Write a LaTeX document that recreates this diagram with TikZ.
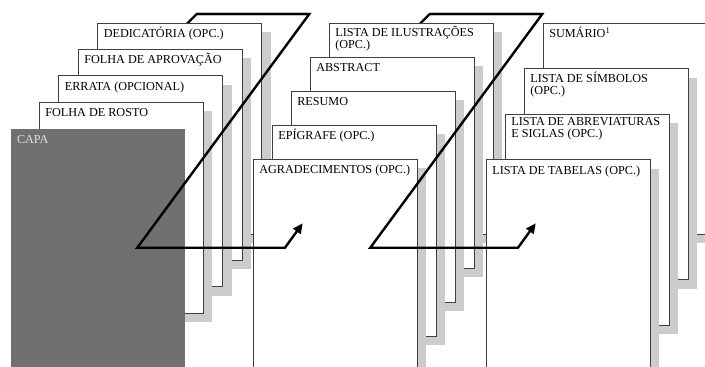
\documentclass[tikz,border=0pt]{standalone}
\usepackage{fontspec}
\setmainfont{Liberation Serif}
\usetikzlibrary{arrows.meta, calc, positioning, shadows}

\begin{document}
\begin{tikzpicture}[x=1pt, y=-1pt,
    every node/.style={inner sep=0pt, outer sep=0pt},
    page/.style={anchor=north west, draw=black!75, line width=0.8pt, fill=white,
        minimum width=164pt, minimum height=211pt,
        drop shadow={shadow xshift=9pt, shadow yshift=-9pt, opacity=1, fill=black!20}},
    title/.style={anchor=north west, inner xsep=6pt, inner ysep=3pt, align=left,
        text=black, font=\fontsize{12.2}{12.7}\selectfont,
        execute at begin node=\rule{0pt}{11.5pt}},
    turn/.style={line width=2.4pt, line join=miter}]
        \clip (0,0) rectangle (705,367);
        % turn markers, hidden part
        \coordinate (s1) at (160,50.7);
        \coordinate (a1) at (196.7,14);
        \coordinate (b1) at (309.3,14);
        \coordinate (c1) at (137.3,247.7);
        \coordinate (d1) at (285,247.7);
        \coordinate (e1) at (302.7,223.3);
        \coordinate (s2) at ($(s1)+(233,0)$);
        \coordinate (a2) at ($(a1)+(233,0)$);
        \coordinate (b2) at ($(b1)+(233,0)$);
        \coordinate (c2) at ($(c1)+(233,0)$);
        \coordinate (d2) at ($(d1)+(233,0)$);
        \coordinate (e2) at ($(e1)+(233,0)$);
        \draw[turn] (s1) -- (a1) -- (b1);
        \draw[turn] (s2) -- (a2) -- (b2);
        % first group
        \node[page] (ded) at (97.8,23) {};
        \node[title] (ded-t) at (ded.north west) {DEDICATÓRIA (OPC.)};
        \node[page] (aprov) at ($(ded.north west)+(-19.5,26.4)$) {};
        \node[title] (aprov-t) at (aprov.north west) {FOLHA DE APROVAÇÃO};
        \node[page] (errata) at ($(aprov.north west)+(-19.5,26.4)$) {};
        \node[title] (errata-t) at (errata.north west) {ERRATA (OPCIONAL)};
        \node[page] (rosto) at ($(errata.north west)+(-19.5,26.4)$) {};
        \node[title] (rosto-t) at (rosto.north west) {FOLHA DE ROSTO};
        \node[anchor=north west, fill=black!56, minimum width=174pt, minimum height=260pt] (capa) at (11,129) {};
        \node[title, text=black!12] (capa-t) at (capa.north west) {CAPA};
        % second group
        \node[page] (ilus) at (329.3,23) {};
        \node[title] (ilus-t) at (ilus.north west) {LISTA DE ILUSTRAÇÕES\\(OPC.)};
        \node[page] (abstract) at ($(ilus.north west)+(-19,34.1)$) {};
        \node[title] (abstract-t) at (abstract.north west) {ABSTRACT};
        \node[page] (resumo) at ($(abstract.north west)+(-19,34.1)$) {};
        \node[title] (resumo-t) at (resumo.north west) {RESUMO};
        \node[page] (epig) at ($(resumo.north west)+(-19,34.1)$) {};
        \node[title] (epig-t) at (epig.north west) {EPÍGRAFE (OPC.)};
        \node[page] (agrad) at ($(epig.north west)+(-19,34.1)$) {};
        \node[title] (agrad-t) at (agrad.north west) {AGRADECIMENTOS (OPC.)};
        % third group
        \node[page] (sumario) at (543.3,23) {};
        \node[title] (sumario-t) at (sumario.north west) {SUMÁRIO\textsuperscript{1}};
        \node[page] (simb) at ($(sumario.north west)+(-19,45.6)$) {};
        \node[title] (simb-t) at (simb.north west) {LISTA DE SÍMBOLOS\\(OPC.)};
        \node[page] (abrev) at ($(simb.north west)+(-19,45.6)$) {};
        \node[title] (abrev-t) at (abrev.north west) {LISTA DE ABREVIATURAS\\E SIGLAS (OPC.)};
        \node[page] (tabelas) at ($(abrev.north west)+(-19,45.6)$) {};
        \node[title] (tabelas-t) at (tabelas.north west) {LISTA DE TABELAS (OPC.)};
        % turn markers, front part
        \draw[turn, -{Triangle[length=10pt, width=9pt]}] (a1) -- (b1) -- (c1) -- (d1) -- (e1);
        \draw[turn, -{Triangle[length=10pt, width=9pt]}] (a2) -- (b2) -- (c2) -- (d2) -- (e2);
    \end{tikzpicture}
\end{document}
